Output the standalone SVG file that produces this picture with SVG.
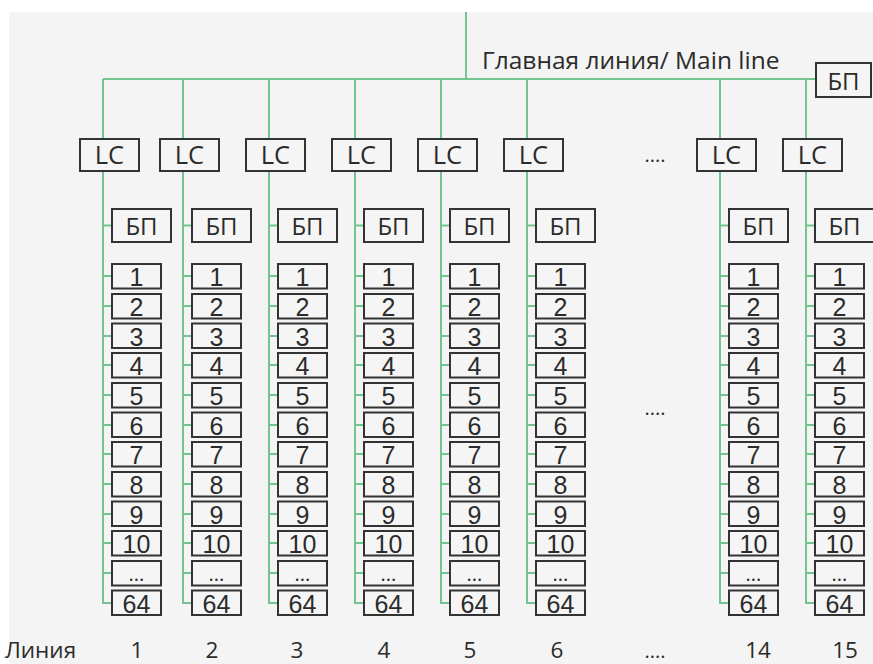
<svg xmlns="http://www.w3.org/2000/svg" width="873" height="664" viewBox="0 0 873 664">
<style>
.bg{fill:#f4f4f4}
.box{fill:#f5f5f5;stroke:#333333;stroke-width:2}
.wire{fill:none;stroke:#74c491;stroke-width:2}
text{font-family:"Open Sans","Noto Sans","DejaVu Sans",sans-serif;fill:#2b2b2b;text-anchor:middle}
.lc{font-size:25.5px}
.bp{font-size:24px}
.num{font-family:"Liberation Sans","Open Sans",sans-serif;font-size:25px}
.dots{font-size:20px}
.lbl{font-size:22.5px}
.title{font-size:24.5px;text-anchor:start}
</style>
<rect width="873" height="664" fill="#ffffff"/>
<rect class="bg" x="9" y="12" width="864" height="652"/>

<g id="connectors">
<path class="wire" d="M466 12 V79 M103 79 H816"/>
<path id="wires-col1" class="wire" transform="translate(103,0)" d="M0 79 V603 H9 M0 225.5 h9 M0 276 h9 M0 306 h9 M0 336 h9 M0 365 h9 M0 395 h9 M0 425 h9 M0 454 h9 M0 484 h9 M0 514 h9 M0 543 h9 M0 573 h9"/>
<path id="wires-col2" class="wire" transform="translate(183,0)" d="M0 79 V603 H9 M0 225.5 h9 M0 276 h9 M0 306 h9 M0 336 h9 M0 365 h9 M0 395 h9 M0 425 h9 M0 454 h9 M0 484 h9 M0 514 h9 M0 543 h9 M0 573 h9"/>
<path id="wires-col3" class="wire" transform="translate(269,0)" d="M0 79 V603 H9 M0 225.5 h9 M0 276 h9 M0 306 h9 M0 336 h9 M0 365 h9 M0 395 h9 M0 425 h9 M0 454 h9 M0 484 h9 M0 514 h9 M0 543 h9 M0 573 h9"/>
<path id="wires-col4" class="wire" transform="translate(355,0)" d="M0 79 V603 H9 M0 225.5 h9 M0 276 h9 M0 306 h9 M0 336 h9 M0 365 h9 M0 395 h9 M0 425 h9 M0 454 h9 M0 484 h9 M0 514 h9 M0 543 h9 M0 573 h9"/>
<path id="wires-col5" class="wire" transform="translate(441,0)" d="M0 79 V603 H9 M0 225.5 h9 M0 276 h9 M0 306 h9 M0 336 h9 M0 365 h9 M0 395 h9 M0 425 h9 M0 454 h9 M0 484 h9 M0 514 h9 M0 543 h9 M0 573 h9"/>
<path id="wires-col6" class="wire" transform="translate(527,0)" d="M0 79 V603 H9 M0 225.5 h9 M0 276 h9 M0 306 h9 M0 336 h9 M0 365 h9 M0 395 h9 M0 425 h9 M0 454 h9 M0 484 h9 M0 514 h9 M0 543 h9 M0 573 h9"/>
<path id="wires-col14" class="wire" transform="translate(720,0)" d="M0 79 V603 H9 M0 225.5 h9 M0 276 h9 M0 306 h9 M0 336 h9 M0 365 h9 M0 395 h9 M0 425 h9 M0 454 h9 M0 484 h9 M0 514 h9 M0 543 h9 M0 573 h9"/>
<path id="wires-col15" class="wire" transform="translate(806,0)" d="M0 79 V603 H9 M0 225.5 h9 M0 276 h9 M0 306 h9 M0 336 h9 M0 365 h9 M0 395 h9 M0 425 h9 M0 454 h9 M0 484 h9 M0 514 h9 M0 543 h9 M0 573 h9"/>
</g>

<text class="title" x="482" y="69">Главная линия/ Main line</text>
<g id="main-bp"><rect class="box" x="816" y="63" width="55" height="34"/><text class="bp" x="843.5" y="90">БП</text></g>

<g id="col1" transform="translate(103,0)">
<g id="lc1"><rect class="box" x="-23" y="139" width="59" height="32"/><text class="lc" x="6.5" y="164">LC</text></g>
<g id="bp1"><rect class="box" x="9" y="209" width="59" height="33"/><text class="bp" x="38.5" y="235">БП</text></g>
<g id="c1-1"><rect class="box" x="9" y="264" width="49" height="24.5"/><text class="num" x="33.5" y="286">1</text></g>
<g id="c1-2"><rect class="box" x="9" y="294" width="49" height="24.5"/><text class="num" x="33.5" y="316">2</text></g>
<g id="c1-3"><rect class="box" x="9" y="323.5" width="49" height="24.5"/><text class="num" x="33.5" y="345.5">3</text></g>
<g id="c1-4"><rect class="box" x="9" y="353" width="49" height="24.5"/><text class="num" x="33.5" y="375">4</text></g>
<g id="c1-5"><rect class="box" x="9" y="383" width="49" height="24.5"/><text class="num" x="33.5" y="405">5</text></g>
<g id="c1-6"><rect class="box" x="9" y="412.5" width="49" height="24.5"/><text class="num" x="33.5" y="434.5">6</text></g>
<g id="c1-7"><rect class="box" x="9" y="442" width="49" height="24.5"/><text class="num" x="33.5" y="464">7</text></g>
<g id="c1-8"><rect class="box" x="9" y="472" width="49" height="24.5"/><text class="num" x="33.5" y="494">8</text></g>
<g id="c1-9"><rect class="box" x="9" y="501.5" width="49" height="24.5"/><text class="num" x="33.5" y="523.5">9</text></g>
<g id="c1-10"><rect class="box" x="9" y="531" width="49" height="24.5"/><text class="num" x="33.5" y="553">10</text></g>
<g id="c1-more"><rect class="box" x="9" y="561" width="49" height="24.5"/><text class="dots" x="33.5" y="581">...</text></g>
<g id="c1-64"><rect class="box" x="9" y="590.5" width="49" height="24.5"/><text class="num" x="33.5" y="612.5">64</text></g>
</g>

<g id="col2" transform="translate(183,0)">
<g id="lc2"><rect class="box" x="-23" y="139" width="59" height="32"/><text class="lc" x="6.5" y="164">LC</text></g>
<g id="bp2"><rect class="box" x="9" y="209" width="59" height="33"/><text class="bp" x="38.5" y="235">БП</text></g>
<g id="c2-1"><rect class="box" x="9" y="264" width="49" height="24.5"/><text class="num" x="33.5" y="286">1</text></g>
<g id="c2-2"><rect class="box" x="9" y="294" width="49" height="24.5"/><text class="num" x="33.5" y="316">2</text></g>
<g id="c2-3"><rect class="box" x="9" y="323.5" width="49" height="24.5"/><text class="num" x="33.5" y="345.5">3</text></g>
<g id="c2-4"><rect class="box" x="9" y="353" width="49" height="24.5"/><text class="num" x="33.5" y="375">4</text></g>
<g id="c2-5"><rect class="box" x="9" y="383" width="49" height="24.5"/><text class="num" x="33.5" y="405">5</text></g>
<g id="c2-6"><rect class="box" x="9" y="412.5" width="49" height="24.5"/><text class="num" x="33.5" y="434.5">6</text></g>
<g id="c2-7"><rect class="box" x="9" y="442" width="49" height="24.5"/><text class="num" x="33.5" y="464">7</text></g>
<g id="c2-8"><rect class="box" x="9" y="472" width="49" height="24.5"/><text class="num" x="33.5" y="494">8</text></g>
<g id="c2-9"><rect class="box" x="9" y="501.5" width="49" height="24.5"/><text class="num" x="33.5" y="523.5">9</text></g>
<g id="c2-10"><rect class="box" x="9" y="531" width="49" height="24.5"/><text class="num" x="33.5" y="553">10</text></g>
<g id="c2-more"><rect class="box" x="9" y="561" width="49" height="24.5"/><text class="dots" x="33.5" y="581">...</text></g>
<g id="c2-64"><rect class="box" x="9" y="590.5" width="49" height="24.5"/><text class="num" x="33.5" y="612.5">64</text></g>
</g>

<g id="col3" transform="translate(269,0)">
<g id="lc3"><rect class="box" x="-23" y="139" width="59" height="32"/><text class="lc" x="6.5" y="164">LC</text></g>
<g id="bp3"><rect class="box" x="9" y="209" width="59" height="33"/><text class="bp" x="38.5" y="235">БП</text></g>
<g id="c3-1"><rect class="box" x="9" y="264" width="49" height="24.5"/><text class="num" x="33.5" y="286">1</text></g>
<g id="c3-2"><rect class="box" x="9" y="294" width="49" height="24.5"/><text class="num" x="33.5" y="316">2</text></g>
<g id="c3-3"><rect class="box" x="9" y="323.5" width="49" height="24.5"/><text class="num" x="33.5" y="345.5">3</text></g>
<g id="c3-4"><rect class="box" x="9" y="353" width="49" height="24.5"/><text class="num" x="33.5" y="375">4</text></g>
<g id="c3-5"><rect class="box" x="9" y="383" width="49" height="24.5"/><text class="num" x="33.5" y="405">5</text></g>
<g id="c3-6"><rect class="box" x="9" y="412.5" width="49" height="24.5"/><text class="num" x="33.5" y="434.5">6</text></g>
<g id="c3-7"><rect class="box" x="9" y="442" width="49" height="24.5"/><text class="num" x="33.5" y="464">7</text></g>
<g id="c3-8"><rect class="box" x="9" y="472" width="49" height="24.5"/><text class="num" x="33.5" y="494">8</text></g>
<g id="c3-9"><rect class="box" x="9" y="501.5" width="49" height="24.5"/><text class="num" x="33.5" y="523.5">9</text></g>
<g id="c3-10"><rect class="box" x="9" y="531" width="49" height="24.5"/><text class="num" x="33.5" y="553">10</text></g>
<g id="c3-more"><rect class="box" x="9" y="561" width="49" height="24.5"/><text class="dots" x="33.5" y="581">...</text></g>
<g id="c3-64"><rect class="box" x="9" y="590.5" width="49" height="24.5"/><text class="num" x="33.5" y="612.5">64</text></g>
</g>

<g id="col4" transform="translate(355,0)">
<g id="lc4"><rect class="box" x="-23" y="139" width="59" height="32"/><text class="lc" x="6.5" y="164">LC</text></g>
<g id="bp4"><rect class="box" x="9" y="209" width="59" height="33"/><text class="bp" x="38.5" y="235">БП</text></g>
<g id="c4-1"><rect class="box" x="9" y="264" width="49" height="24.5"/><text class="num" x="33.5" y="286">1</text></g>
<g id="c4-2"><rect class="box" x="9" y="294" width="49" height="24.5"/><text class="num" x="33.5" y="316">2</text></g>
<g id="c4-3"><rect class="box" x="9" y="323.5" width="49" height="24.5"/><text class="num" x="33.5" y="345.5">3</text></g>
<g id="c4-4"><rect class="box" x="9" y="353" width="49" height="24.5"/><text class="num" x="33.5" y="375">4</text></g>
<g id="c4-5"><rect class="box" x="9" y="383" width="49" height="24.5"/><text class="num" x="33.5" y="405">5</text></g>
<g id="c4-6"><rect class="box" x="9" y="412.5" width="49" height="24.5"/><text class="num" x="33.5" y="434.5">6</text></g>
<g id="c4-7"><rect class="box" x="9" y="442" width="49" height="24.5"/><text class="num" x="33.5" y="464">7</text></g>
<g id="c4-8"><rect class="box" x="9" y="472" width="49" height="24.5"/><text class="num" x="33.5" y="494">8</text></g>
<g id="c4-9"><rect class="box" x="9" y="501.5" width="49" height="24.5"/><text class="num" x="33.5" y="523.5">9</text></g>
<g id="c4-10"><rect class="box" x="9" y="531" width="49" height="24.5"/><text class="num" x="33.5" y="553">10</text></g>
<g id="c4-more"><rect class="box" x="9" y="561" width="49" height="24.5"/><text class="dots" x="33.5" y="581">...</text></g>
<g id="c4-64"><rect class="box" x="9" y="590.5" width="49" height="24.5"/><text class="num" x="33.5" y="612.5">64</text></g>
</g>

<g id="col5" transform="translate(441,0)">
<g id="lc5"><rect class="box" x="-23" y="139" width="59" height="32"/><text class="lc" x="6.5" y="164">LC</text></g>
<g id="bp5"><rect class="box" x="9" y="209" width="59" height="33"/><text class="bp" x="38.5" y="235">БП</text></g>
<g id="c5-1"><rect class="box" x="9" y="264" width="49" height="24.5"/><text class="num" x="33.5" y="286">1</text></g>
<g id="c5-2"><rect class="box" x="9" y="294" width="49" height="24.5"/><text class="num" x="33.5" y="316">2</text></g>
<g id="c5-3"><rect class="box" x="9" y="323.5" width="49" height="24.5"/><text class="num" x="33.5" y="345.5">3</text></g>
<g id="c5-4"><rect class="box" x="9" y="353" width="49" height="24.5"/><text class="num" x="33.5" y="375">4</text></g>
<g id="c5-5"><rect class="box" x="9" y="383" width="49" height="24.5"/><text class="num" x="33.5" y="405">5</text></g>
<g id="c5-6"><rect class="box" x="9" y="412.5" width="49" height="24.5"/><text class="num" x="33.5" y="434.5">6</text></g>
<g id="c5-7"><rect class="box" x="9" y="442" width="49" height="24.5"/><text class="num" x="33.5" y="464">7</text></g>
<g id="c5-8"><rect class="box" x="9" y="472" width="49" height="24.5"/><text class="num" x="33.5" y="494">8</text></g>
<g id="c5-9"><rect class="box" x="9" y="501.5" width="49" height="24.5"/><text class="num" x="33.5" y="523.5">9</text></g>
<g id="c5-10"><rect class="box" x="9" y="531" width="49" height="24.5"/><text class="num" x="33.5" y="553">10</text></g>
<g id="c5-more"><rect class="box" x="9" y="561" width="49" height="24.5"/><text class="dots" x="33.5" y="581">...</text></g>
<g id="c5-64"><rect class="box" x="9" y="590.5" width="49" height="24.5"/><text class="num" x="33.5" y="612.5">64</text></g>
</g>

<g id="col6" transform="translate(527,0)">
<g id="lc6"><rect class="box" x="-23" y="139" width="59" height="32"/><text class="lc" x="6.5" y="164">LC</text></g>
<g id="bp6"><rect class="box" x="9" y="209" width="59" height="33"/><text class="bp" x="38.5" y="235">БП</text></g>
<g id="c6-1"><rect class="box" x="9" y="264" width="49" height="24.5"/><text class="num" x="33.5" y="286">1</text></g>
<g id="c6-2"><rect class="box" x="9" y="294" width="49" height="24.5"/><text class="num" x="33.5" y="316">2</text></g>
<g id="c6-3"><rect class="box" x="9" y="323.5" width="49" height="24.5"/><text class="num" x="33.5" y="345.5">3</text></g>
<g id="c6-4"><rect class="box" x="9" y="353" width="49" height="24.5"/><text class="num" x="33.5" y="375">4</text></g>
<g id="c6-5"><rect class="box" x="9" y="383" width="49" height="24.5"/><text class="num" x="33.5" y="405">5</text></g>
<g id="c6-6"><rect class="box" x="9" y="412.5" width="49" height="24.5"/><text class="num" x="33.5" y="434.5">6</text></g>
<g id="c6-7"><rect class="box" x="9" y="442" width="49" height="24.5"/><text class="num" x="33.5" y="464">7</text></g>
<g id="c6-8"><rect class="box" x="9" y="472" width="49" height="24.5"/><text class="num" x="33.5" y="494">8</text></g>
<g id="c6-9"><rect class="box" x="9" y="501.5" width="49" height="24.5"/><text class="num" x="33.5" y="523.5">9</text></g>
<g id="c6-10"><rect class="box" x="9" y="531" width="49" height="24.5"/><text class="num" x="33.5" y="553">10</text></g>
<g id="c6-more"><rect class="box" x="9" y="561" width="49" height="24.5"/><text class="dots" x="33.5" y="581">...</text></g>
<g id="c6-64"><rect class="box" x="9" y="590.5" width="49" height="24.5"/><text class="num" x="33.5" y="612.5">64</text></g>
</g>

<g id="col14" transform="translate(720,0)">
<g id="lc14"><rect class="box" x="-23" y="139" width="59" height="32"/><text class="lc" x="6.5" y="164">LC</text></g>
<g id="bp14"><rect class="box" x="9" y="209" width="59" height="33"/><text class="bp" x="38.5" y="235">БП</text></g>
<g id="c14-1"><rect class="box" x="9" y="264" width="49" height="24.5"/><text class="num" x="33.5" y="286">1</text></g>
<g id="c14-2"><rect class="box" x="9" y="294" width="49" height="24.5"/><text class="num" x="33.5" y="316">2</text></g>
<g id="c14-3"><rect class="box" x="9" y="323.5" width="49" height="24.5"/><text class="num" x="33.5" y="345.5">3</text></g>
<g id="c14-4"><rect class="box" x="9" y="353" width="49" height="24.5"/><text class="num" x="33.5" y="375">4</text></g>
<g id="c14-5"><rect class="box" x="9" y="383" width="49" height="24.5"/><text class="num" x="33.5" y="405">5</text></g>
<g id="c14-6"><rect class="box" x="9" y="412.5" width="49" height="24.5"/><text class="num" x="33.5" y="434.5">6</text></g>
<g id="c14-7"><rect class="box" x="9" y="442" width="49" height="24.5"/><text class="num" x="33.5" y="464">7</text></g>
<g id="c14-8"><rect class="box" x="9" y="472" width="49" height="24.5"/><text class="num" x="33.5" y="494">8</text></g>
<g id="c14-9"><rect class="box" x="9" y="501.5" width="49" height="24.5"/><text class="num" x="33.5" y="523.5">9</text></g>
<g id="c14-10"><rect class="box" x="9" y="531" width="49" height="24.5"/><text class="num" x="33.5" y="553">10</text></g>
<g id="c14-more"><rect class="box" x="9" y="561" width="49" height="24.5"/><text class="dots" x="33.5" y="581">...</text></g>
<g id="c14-64"><rect class="box" x="9" y="590.5" width="49" height="24.5"/><text class="num" x="33.5" y="612.5">64</text></g>
</g>

<g id="col15" transform="translate(806,0)">
<g id="lc15"><rect class="box" x="-23" y="139" width="59" height="32"/><text class="lc" x="6.5" y="164">LC</text></g>
<g id="bp15"><rect class="box" x="9" y="209" width="59" height="33"/><text class="bp" x="38.5" y="235">БП</text></g>
<g id="c15-1"><rect class="box" x="9" y="264" width="49" height="24.5"/><text class="num" x="33.5" y="286">1</text></g>
<g id="c15-2"><rect class="box" x="9" y="294" width="49" height="24.5"/><text class="num" x="33.5" y="316">2</text></g>
<g id="c15-3"><rect class="box" x="9" y="323.5" width="49" height="24.5"/><text class="num" x="33.5" y="345.5">3</text></g>
<g id="c15-4"><rect class="box" x="9" y="353" width="49" height="24.5"/><text class="num" x="33.5" y="375">4</text></g>
<g id="c15-5"><rect class="box" x="9" y="383" width="49" height="24.5"/><text class="num" x="33.5" y="405">5</text></g>
<g id="c15-6"><rect class="box" x="9" y="412.5" width="49" height="24.5"/><text class="num" x="33.5" y="434.5">6</text></g>
<g id="c15-7"><rect class="box" x="9" y="442" width="49" height="24.5"/><text class="num" x="33.5" y="464">7</text></g>
<g id="c15-8"><rect class="box" x="9" y="472" width="49" height="24.5"/><text class="num" x="33.5" y="494">8</text></g>
<g id="c15-9"><rect class="box" x="9" y="501.5" width="49" height="24.5"/><text class="num" x="33.5" y="523.5">9</text></g>
<g id="c15-10"><rect class="box" x="9" y="531" width="49" height="24.5"/><text class="num" x="33.5" y="553">10</text></g>
<g id="c15-more"><rect class="box" x="9" y="561" width="49" height="24.5"/><text class="dots" x="33.5" y="581">...</text></g>
<g id="c15-64"><rect class="box" x="9" y="590.5" width="49" height="24.5"/><text class="num" x="33.5" y="612.5">64</text></g>
</g>

<g id="ellipses">
<text class="dots" x="655" y="162">....</text>
<text class="dots" x="655" y="415">....</text>
</g>

<g id="line-labels">
<text class="lbl" x="5" y="658" style="text-anchor:start">Линия</text>
<text class="lbl" x="137" y="658">1</text>
<text class="lbl" x="212" y="658">2</text>
<text class="lbl" x="297" y="658">3</text>
<text class="lbl" x="384" y="658">4</text>
<text class="lbl" x="470" y="658">5</text>
<text class="lbl" x="557" y="658">6</text>
<text class="dots" x="655" y="658">....</text>
<text class="lbl" x="758" y="658">14</text>
<text class="lbl" x="845" y="658">15</text>
</g>
</svg>
